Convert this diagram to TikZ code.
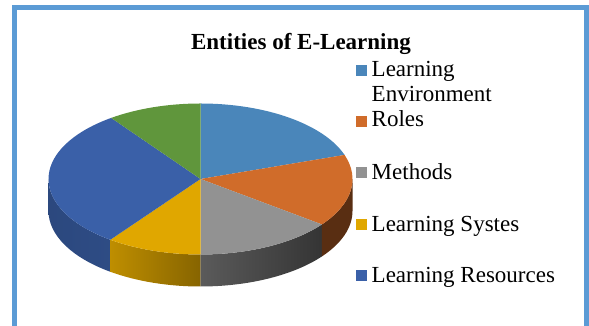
\documentclass[tikz,border=0pt]{standalone}
\usepackage{fontspec}
\setmainfont{Liberation Serif}

\definecolor{frameblue}{HTML}{5B9BD5}
\definecolor{envblue}{HTML}{4A86BA}
\definecolor{roleorange}{HTML}{D06C2A}
\definecolor{methgray}{HTML}{929292}
\definecolor{sysgold}{HTML}{E0A700}
\definecolor{resblue}{HTML}{3A60A8}
\definecolor{othgreen}{HTML}{60963C}

% top face and side wall of one slice: start angle, end angle, colour options
\newcommand{\pietop}[3]{\path[#3] (200.5,147) -- ++(#1:152 and 75.5) arc[start angle=#1,end angle=#2,x radius=152,y radius=75.5] -- cycle;}
\newcommand{\pieside}[3]{\path[#3] (200.5,147) ++(#1:152 and 75.5) arc[start angle=#1,end angle=#2,x radius=152,y radius=75.5] -- ++(0,-32) arc[start angle=#2,end angle=#1,x radius=152,y radius=75.5] -- cycle;}

\begin{document}
\begin{tikzpicture}[x=1pt,y=1pt,
    keybox/.style={fill=#1,inner sep=0pt,minimum size=11pt},
    keytext/.style={anchor=base west,inner sep=0pt,align=left,font=\fontsize{23}{25}\selectfont}]
    \useasboundingbox (0,0) rectangle (589,326);
    \draw[frameblue,line width=5pt] (14.5,-10) -- (14.5,318.5) -- (586.5,318.5) -- (586.5,-10);

    \node[anchor=base,inner sep=0pt,font=\bfseries\fontsize{23}{25}\selectfont] (title) at (301,276) {Entities of E-Learning};

    % side walls
    \pieside{180}{233.6}{left color=resblue!75!black,right color=resblue!85!black}
    \pieside{233.6}{270}{left color=sysgold!85!black,right color=sysgold!60!black}
    \pieside{270}{323}{left color=methgray!62!black,right color=methgray!36!black}
    \pieside{323}{360}{fill=roleorange!43!black}

    % top
    \pietop{90}{18.6}{fill=envblue}
    \pietop{18.6}{-37}{fill=roleorange}
    \pietop{-37}{-90}{fill=methgray}
    \pietop{-90}{-126.4}{fill=sysgold}
    \pietop{-126.4}{-234}{fill=resblue}
    \pietop{-234}{-270}{fill=othgreen}

    % legend
    \node[keybox=envblue] (kenv) at (361,255.7) {};
    \node[keytext] (tenv) at (371.5,224.3) {Learning\\Environment};
    \node[keybox=roleorange] (krole) at (361,204) {};
    \node[keytext] (trole) at (371.5,199.3) {Roles};
    \node[keybox=methgray] (kmeth) at (361,153.4) {};
    \node[keytext] (tmeth) at (371.5,146.8) {Methods};
    \node[keybox=sysgold] (ksys) at (361,101) {};
    \node[keytext] (tsys) at (371.5,94.4) {Learning Systes};
    \node[keybox=resblue] (kres) at (361,50) {};
    \node[keytext] (tres) at (371.5,43.4) {Learning Resources};
\end{tikzpicture}
\end{document}
